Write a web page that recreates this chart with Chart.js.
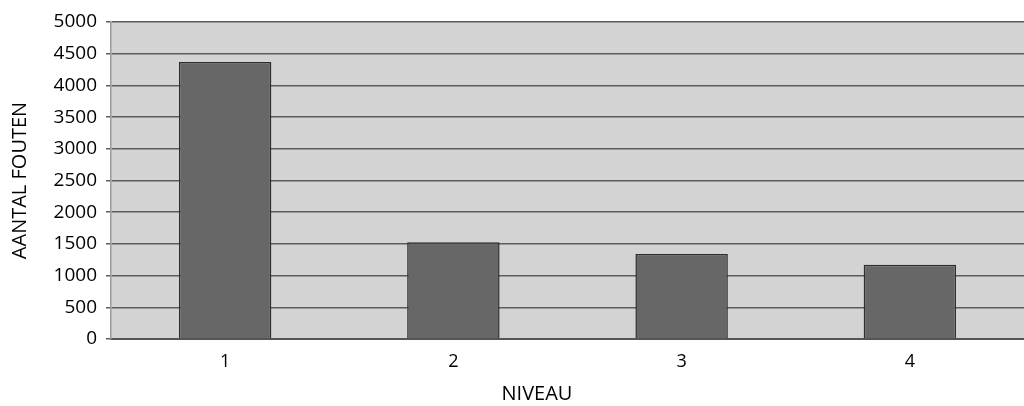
<!DOCTYPE html>
<html>
<head>
<meta charset="utf-8">
<style>
  html, body { margin: 0; padding: 0; background: #ffffff; }
  #wrap { width: 1024px; height: 406px; }
</style>
<script src="https://cdn.jsdelivr.net/npm/chart.js@4/dist/chart.umd.min.js"></script>
</head>
<body>
<div id="wrap"><canvas id="c" width="1024" height="406"></canvas></div>
<script>
// Number of errors per level
const levels = ['1', '2', '3', '4'];
const errorCounts = [4370, 1525, 1340, 1170];
const yTicks = [0, 500, 1000, 1500, 2000, 2500, 3000, 3500, 4000, 4500, 5000];
const xTitle = 'NIVEAU';
const yTitle = 'AANTAL FOUTEN';

const FONT = "'Open Sans', 'DejaVu Sans', sans-serif";

// Grey plot-area background and the horizontal axis caption
const plotDecor = {
  id: 'plotDecor',
  beforeDraw(chart) {
    const { ctx, chartArea: a } = chart;
    ctx.save();
    ctx.fillStyle = '#d3d3d3';
    ctx.fillRect(a.left, a.top, a.right - a.left, a.bottom - a.top);
    ctx.restore();
  },
  afterDraw(chart) {
    const { ctx } = chart;
    ctx.save();
    ctx.fillStyle = '#000000';
    ctx.font = `20px ${FONT}`;
    ctx.textAlign = 'center';
    ctx.textBaseline = 'middle';
    ctx.fillText(xTitle, 537, 394);
    ctx.restore();
  }
};

new Chart(document.getElementById('c'), {
  type: 'bar',
  data: {
    labels: levels,
    datasets: [{
      data: errorCounts,
      backgroundColor: '#676767',
      borderColor: '#2e2e2e',
      borderWidth: 1.5,
      barPercentage: 0.405,
      categoryPercentage: 1.0
    }]
  },
  options: {
    responsive: false,
    animation: false,
    layout: { padding: { top: 22, right: 0, left: 0, bottom: 0 } },
    plugins: {
      legend: { display: false },
      tooltip: { enabled: false }
    },
    scales: {
      x: {
        grid: { display: false, drawTicks: false },
        border: { display: true, color: '#555555', width: 2 },
        ticks: {
          color: '#000000',
          font: { family: FONT, size: 18 },
          padding: 12
        },
        afterFit(scale) { scale.height = 67; }
      },
      y: {
        min: 0,
        max: 5000,
        afterBuildTicks(scale) { scale.ticks = yTicks.map(v => ({ value: v })); },
        grid: {
          color: '#5c5c5c',
          lineWidth: 1.5,
          drawTicks: true,
          tickLength: 5
        },
        border: { display: true, color: '#9a9a9a', width: 1.5 },
        ticks: {
          color: '#000000',
          font: { family: FONT, size: 19 },
          padding: 9,
          callback: (v) => String(v)
        },
        title: {
          display: true,
          text: yTitle,
          color: '#000000',
          font: { family: FONT, size: 20 },
          padding: { top: 8, bottom: 0 }
        },
        afterFit(scale) { scale.width = 111; }
      }
    }
  },
  plugins: [plotDecor]
});
</script>
</body>
</html>
